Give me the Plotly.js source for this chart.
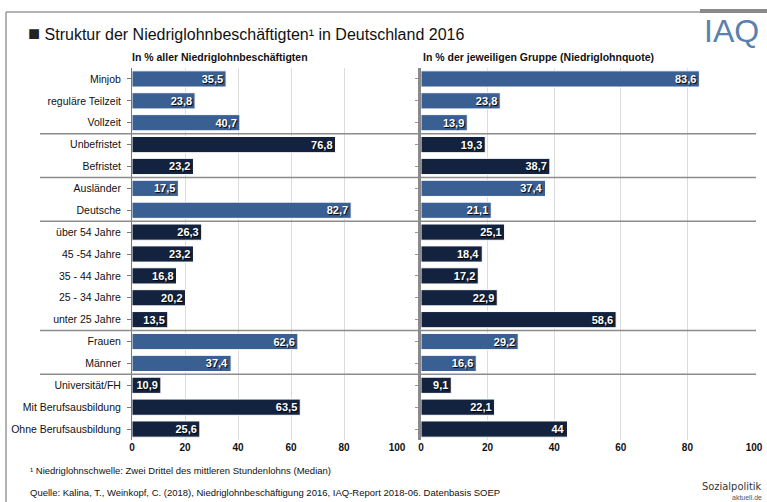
<!DOCTYPE html>
<html>
<head>
<meta charset="utf-8">
<script src="https://cdn.plot.ly/plotly-3.0.1.min.js"></script>
<style>html,body{margin:0;padding:0;background:#fff;}#chart{width:767px;height:502px;}</style>
</head>
<body>
<div id="chart"></div>
<script>
const categories = ["Minjob","reguläre Teilzeit","Vollzeit","Unbefristet","Befristet","Ausländer","Deutsche","über 54 Jahre","45 -54 Jahre","35 - 44 Jahre","25 - 34 Jahre","unter 25 Jahre","Frauen","Männer","Universität/FH","Mit Berufsausbildung","Ohne Berufsausbildung"];
const shareAll = [35.5,23.8,40.7,76.8,23.2,17.5,82.7,26.3,23.2,16.8,20.2,13.5,62.6,37.4,10.9,63.5,25.6];
const quote = [83.6,23.8,13.9,19.3,38.7,37.4,21.1,25.1,18.4,17.2,22.9,58.6,29.2,16.6,9.1,22.1,44];
const groupShade = ["light","light","light","dark","dark","light","light","dark","dark","dark","dark","dark","light","light","dark","dark","dark"];
const xTicks = [0,20,40,60,80,100];
const separatorsAfter = [2,4,6,11,13];

const LIGHT = "#3a5f93", DARK = "#13233f";
const FONT = "Liberation Sans Narrow, Liberation Sans, Arial, sans-serif";
const colors = groupShade.map(g => g === "light" ? LIGHT : DARK);
const fmt = v => String(v).replace(".", ",");

function barTrace(vals, xa, ya) {
  return {
    type: "bar", orientation: "h", y: categories, x: vals,
    xaxis: xa, yaxis: ya,
    marker: {color: colors, line: {color: "#ffffff", width: 1}},
    text: vals.map(fmt), textposition: "inside", insidetextanchor: "end",
    textfont: {color: "#ffffff", size: 11, family: FONT, weight: "bold", shadow: "1px 1px 1px #000"},
    constraintext: "none",
    hoverinfo: "skip", showlegend: false, cliponaxis: false
  };
}

const W = 767, H = 502;
const px = v => v / W, py = v => 1 - v / H;

const xBase = {
  range: [0, 100], tickvals: xTicks, ticktext: xTicks.map(String),
  showgrid: true, gridcolor: "#dcdcdc", gridwidth: 1, zeroline: false,
  ticks: "", showline: false, fixedrange: true,
  tickfont: {size: 10, family: FONT, color: "#111", weight: "bold"}
};
const yBase = {
  type: "category", range: [categories.length - 0.5, -0.5],
  domain: [1 - 440 / H, 1 - 68 / H], showgrid: false, zeroline: false, fixedrange: true
};

const shapes = [];
separatorsAfter.forEach(i => {
  shapes.push({type: "line", xref: "paper", yref: "y", x0: px(40), x1: px(756), y0: i + 0.5, y1: i + 0.5,
    line: {color: "#8c8c8c", width: 1.5}});
});
// frame
shapes.push({type: "line", xref: "paper", yref: "paper", x0: px(6), x1: px(700), y0: py(12), y1: py(12), line: {color: "#9a9a9a", width: 1.5}});
shapes.push({type: "line", xref: "paper", yref: "paper", x0: px(700), x1: px(767), y0: py(11), y1: py(11), line: {color: "#8a8a8a", width: 4}});
shapes.push({type: "line", xref: "paper", yref: "paper", x0: px(6), x1: px(6), y0: py(12), y1: py(502), line: {color: "#9a9a9a", width: 1.5}});

const layout = {
  width: W, height: H, margin: {l: 0, r: 0, t: 0, b: 0},
  paper_bgcolor: "#ffffff", plot_bgcolor: "#ffffff",
  bargap: 0.26, separators: ",.",
  font: {family: FONT, color: "#111"},
  title: {text: "<span style='color:#222;font-size:20px'>■</span> Struktur der Niedriglohnbeschäftigten¹ in Deutschland 2016",
    x: 28 / W, xanchor: "left", xref: "paper", y: 1 - 34 / H, yanchor: "middle", yref: "container",
    font: {size: 16, family: FONT, color: "#111"}},
  xaxis: Object.assign({}, xBase, {domain: [132 / W, 397 / W], anchor: "y"}),
  xaxis2: Object.assign({}, xBase, {domain: [421 / W, 754 / W], anchor: "y2"}),
  yaxis: Object.assign({}, yBase, {anchor: "x", showline: true, linecolor: "#777", linewidth: 1,
    ticks: "outside", ticklen: 4, tickcolor: "#777", ticklabelstandoff: 4,
    tickfont: {size: 10.5, family: FONT, color: "#111"}}),
  yaxis2: Object.assign({}, yBase, {anchor: "x2", showline: true, linecolor: "#8a8a8a", linewidth: 3,
    ticks: "outside", ticklen: 3, tickcolor: "#999", showticklabels: false}),
  shapes: shapes,
  annotations: [
    {text: "<b>In % aller Niedriglohnbeschäftigten</b>", xref: "paper", yref: "paper", x: 130 / W, y: py(57),
      xanchor: "left", yanchor: "middle", showarrow: false, font: {size: 10.5, family: FONT, color: "#111"}},
    {text: "<b>In % der jeweiligen Gruppe (Niedriglohnquote)</b>", xref: "paper", yref: "paper", x: 421 / W, y: py(57),
      xanchor: "left", yanchor: "middle", showarrow: false, font: {size: 10.5, family: FONT, color: "#111"}},
    {text: "IAQ", xref: "paper", yref: "paper", x: 702 / W, y: py(31), xanchor: "left", yanchor: "middle",
      showarrow: false, font: {size: 32, family: FONT, color: "#5b7fae"}},
    {text: "¹ Niedriglohnschwelle: Zwei Drittel des mittleren Stundenlohns (Median)", xref: "paper", yref: "paper",
      x: 28 / W, y: py(470), xanchor: "left", yanchor: "middle", showarrow: false, font: {size: 9.5, family: FONT, color: "#111"}},
    {text: "Quelle: Kalina, T., Weinkopf, C. (2018), Niedriglohnbeschäftigung 2016, IAQ-Report 2018-06. Datenbasis SOEP", xref: "paper", yref: "paper",
      x: 28 / W, y: py(492), xanchor: "left", yanchor: "middle", showarrow: false, font: {size: 9.5, family: FONT, color: "#111"}},
    {text: "Sozialpolitik", xref: "paper", yref: "paper", x: 764 / W, y: py(486), xanchor: "right", yanchor: "middle",
      showarrow: false, font: {size: 11, family: "DejaVu Sans Condensed, DejaVu Sans, sans-serif", color: "#333"}},
    {text: "aktuell.de", xref: "paper", yref: "paper", x: 764 / W, y: py(497), xanchor: "right", yanchor: "middle",
      showarrow: false, font: {size: 7, family: FONT, color: "#555"}}
  ]
};

Plotly.newPlot("chart", [barTrace(shareAll, "x", "y"), barTrace(quote, "x2", "y2")], layout, {displayModeBar: false, staticPlot: true});
</script>
</body>
</html>
